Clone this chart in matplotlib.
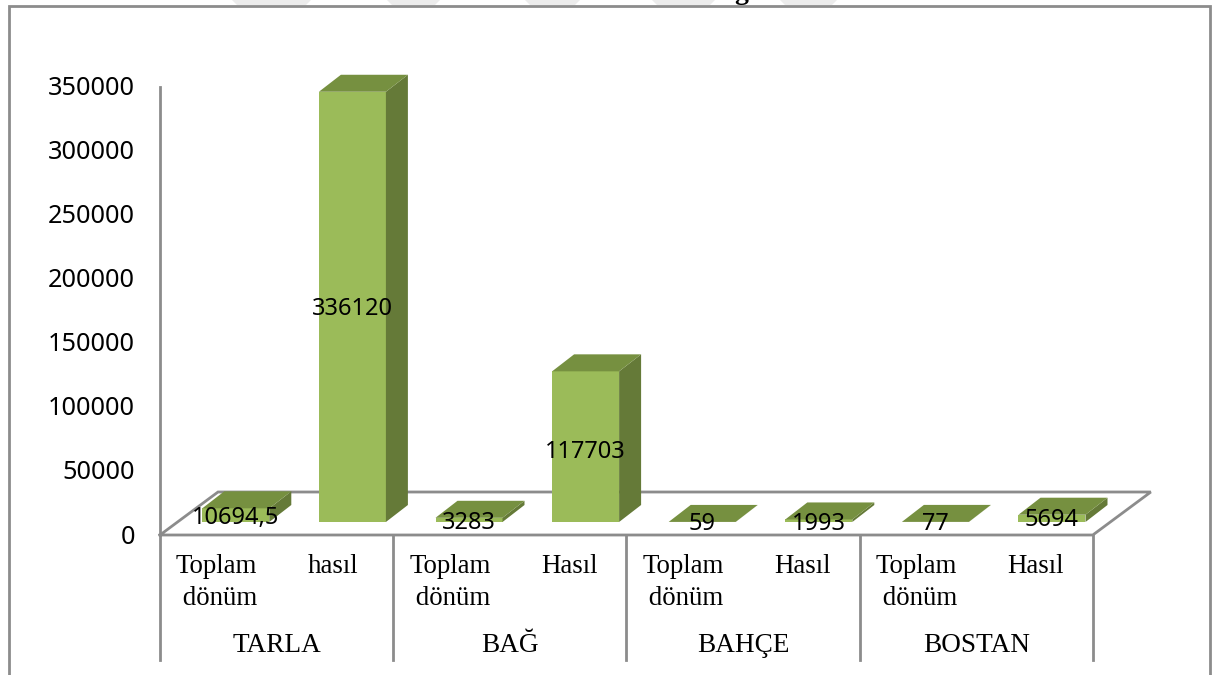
import matplotlib
matplotlib.use('Agg')
import matplotlib.pyplot as plt
from matplotlib.patches import Polygon

groups = ['TARLA', 'BAĞ', 'BAHÇE', 'BOSTAN']
sub_labels = ['Toplam\n dönüm', 'hasıl', 'Toplam\n dönüm', 'Hasıl',
              'Toplam\n dönüm', 'Hasıl', 'Toplam\n dönüm', 'Hasıl']
values = [10694.5, 336120, 3283, 117703, 59, 1993, 77, 5694]
value_labels = ['10694,5', '336120', '3283', '117703', '59', '1993', '77', '5694']
yticks = [0, 50000, 100000, 150000, 200000, 250000, 300000, 350000]

W, H = 1219, 675
SLOT = 116.6      # px per slot
PER_VAL = 448 / 350000  # px per value unit
X0, Y0 = 160, 535  # pixel of slot 0 / value 0
GREY = '#8c8c8c'

# label nudges in px (down is positive)
label_dy = [3, 2, 3.5, 5.5, 2.5, 3, 2.5, 1.5]
# gray watermark bits above the frame, left/right px at the top edge
wm_spans = [(232, 311), (387, 440), (525, 580), (652, 715), (780, 837)]


def px(x, y):
    # pixel position to data coords
    return (x - X0) / SLOT, (Y0 - y) / PER_VAL


fig = plt.figure(figsize=(W / 100, H / 100), dpi=100)
ax = fig.add_axes([0, 0, 1, 1])
ax.set_xlim(-X0 / SLOT, (W - X0) / SLOT)
ax.set_ylim(-(H - Y0) / PER_VAL, Y0 / PER_VAL)
ax.axis('off')

# watermark + cut off title
for a, b in wm_spans:
    ax.add_patch(Polygon([px(a, 0), px(b, 0), px(b - 5, 5), px(a + 5, 5)],
                         color='#ececec', lw=0, zorder=0))
gx, gy = px(741, -1)
ax.text(gx, gy, 'g', ha='center', va='baseline', fontsize=20,
        family='Liberation Serif', weight='bold', color='black')

# depth of the 3d bars in data units
dx = 22 / SLOT
dy = 17 / PER_VAL
base = 13 / PER_VAL
bar_w = 67 / SLOT
shift = 17.5 / SLOT

# floor + axis lines
floor_dx = 58 / SLOT
floor_dy = 43 / PER_VAL
ax.plot([0, floor_dx, 8 + floor_dx, 8, 0], [0, floor_dy, floor_dy, 0, 0],
        color=GREY, lw=2, zorder=1, solid_joinstyle='miter')
ax.plot([0, 0], [0, 350000], color=GREY, lw=2, zorder=1)
low = -125 / PER_VAL
for i in range(5):
    ax.plot([2 * i, 2 * i], [0, low], color=GREY, lw=2, zorder=1)

# bars
for i, v in enumerate(values):
    left = i + 0.5 + shift - bar_w / 2
    right = left + bar_w
    top = base + v
    ax.add_patch(Polygon([(left, base), (right, base), (right, top), (left, top)],
                         color='#9bbb59', lw=0, zorder=3))
    ax.add_patch(Polygon([(right, base), (right + dx, base + dy), (right + dx, top + dy), (right, top)],
                         color='#657a38', lw=0, zorder=3))
    ax.add_patch(Polygon([(left, top), (right, top), (right + dx, top + dy), (left + dx, top + dy)],
                         color='#769040', lw=0, zorder=3))
    ax.text(i + 0.5 + shift, base + v / 2 - label_dy[i] / PER_VAL, value_labels[i],
            ha='center', va='center', fontsize=17, family='Noto Sans', color='black', zorder=5)

# y ticks
for t in yticks:
    ax.text(-25 / SLOT, t - 2 / PER_VAL, str(t), ha='right', va='center', fontsize=18.2,
            family='Noto Sans', color='black')

# category labels
for i, lab in enumerate(sub_labels):
    off = 16 / SLOT if i % 2 == 0 else 31 / SLOT
    ax.text(i + off, -19 / PER_VAL, lab, ha='left', va='top', fontsize=19.4,
            family='Liberation Serif', linespacing=1.38, color='black')
for i, g in enumerate(groups):
    ax.text(2 * i + 1, -110 / PER_VAL, g, ha='center', va='center', fontsize=19.6,
            family='Liberation Serif', color='black')

# outer frame
fl, ft = px(8.5, 6)
fr, fb = px(1210, 675)
ax.plot([fl, fl, fr, fr], [fb, ft, ft, fb], color=GREY, lw=2, zorder=1, solid_joinstyle='miter')

fig.savefig('out.png', dpi=100)
